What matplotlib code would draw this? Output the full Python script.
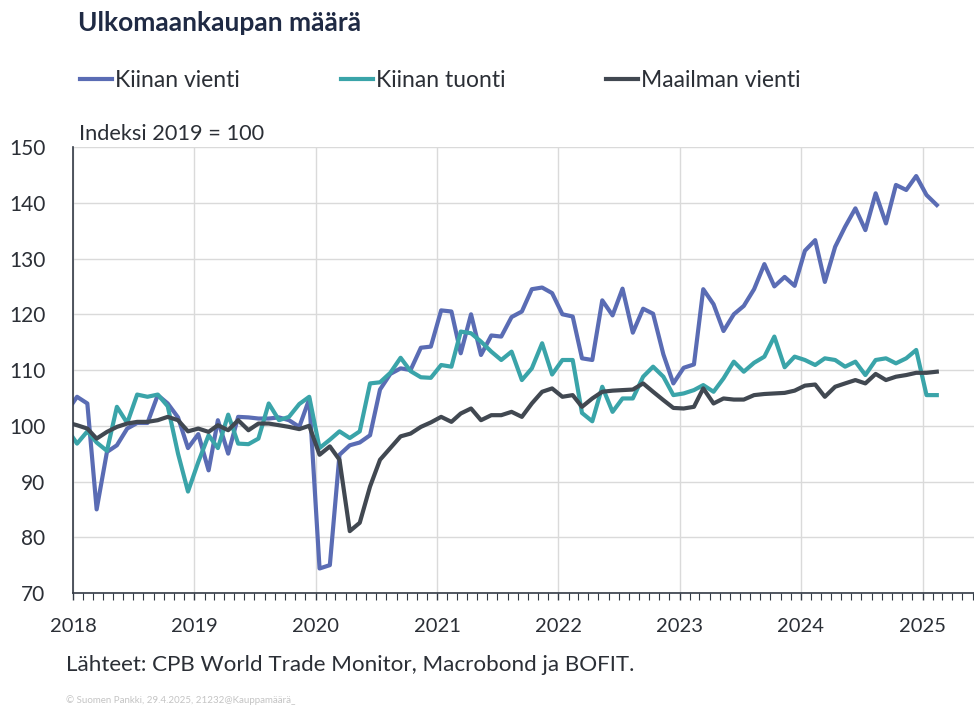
import matplotlib
matplotlib.use("Agg")
import matplotlib.pyplot as plt
import matplotlib.dates as mdates
import pandas as pd

plt.rcParams['font.family'] = ['Lato', 'DejaVu Sans']

# Monthly index values, Dec 2017 .. Feb 2025 (Index 2019 = 100)
months = pd.date_range('2017-12-01', periods=87, freq='MS') + pd.Timedelta(days=12)

kiinan_vienti = [
    102.5, 105.2, 104.0, 85.0, 95.3, 96.5, 99.5, 100.5, 100.5, 105.5, 104.0, 101.5, 96.0,
    98.5, 92.0, 101.0, 95.0, 101.6, 101.5, 101.3, 101.3, 101.5, 101.0, 99.8, 104.8,
    74.4, 75.0, 94.8, 96.5, 97.0, 98.3, 106.5, 109.3, 110.3, 110.0, 114.0, 114.2,
    120.7, 120.5, 113.0, 120.0, 112.7, 116.2, 116.0, 119.5, 120.5, 124.5, 124.8, 123.8,
    120.0, 119.6, 112.1, 111.8, 122.5, 119.8, 124.6, 116.7, 121.0, 120.1, 112.8, 107.6,
    110.4, 111.0, 124.5, 121.8, 117.0, 120.0, 121.5, 124.5, 129.0, 125.0, 126.7, 125.1,
    131.4, 133.3, 125.8, 132.1, 135.7, 139.0, 135.1, 141.7, 136.3, 143.2, 142.3, 144.8,
    141.4, 139.6,
]
kiinan_tuonti = [
    99.5, 96.8, 99.0, 97.0, 95.5, 103.4, 100.5, 105.6, 105.2, 105.6, 103.5, 95.0, 88.2,
    93.5, 98.3, 96.0, 102.0, 96.8, 96.7, 97.7, 104.0, 101.0, 101.6, 103.9, 105.2,
    96.0, 97.5, 99.0, 97.8, 99.0, 107.6, 107.8, 109.5, 112.2, 109.8, 108.7, 108.6,
    110.9, 110.6, 116.9, 116.6, 115.1, 113.3, 111.8, 113.3, 108.2, 110.3, 114.8, 109.2,
    111.8, 111.8, 102.3, 100.8, 107.0, 102.5, 104.9, 104.9, 108.8, 110.6, 108.8, 105.5,
    105.8, 106.4, 107.3, 106.1, 108.5, 111.5, 109.7, 111.3, 112.4, 116.0, 110.5, 112.4,
    111.8, 110.9, 112.1, 111.8, 110.6, 111.5, 109.1, 111.8, 112.1, 111.2, 112.1, 113.6,
    105.5, 105.5,
]
maailman_vienti = [
    100.6, 100.1, 99.5, 97.7, 98.9, 99.8, 100.4, 100.7, 100.7, 101.0, 101.6, 101.0, 99.0,
    99.5, 98.9, 100.1, 99.2, 101.0, 99.2, 100.4, 100.4, 100.1, 99.8, 99.4, 100.0,
    94.8, 96.3, 93.9, 81.1, 82.6, 89.1, 93.9, 96.0, 98.1, 98.6, 99.8, 100.6,
    101.6, 100.7, 102.2, 103.1, 101.0, 101.9, 101.9, 102.5, 101.6, 104.0, 106.1, 106.7,
    105.2, 105.5, 103.4, 104.9, 106.1, 106.3, 106.4, 106.5, 107.6, 106.1, 104.6, 103.2,
    103.1, 103.4, 106.7, 104.0, 104.9, 104.7, 104.7, 105.5, 105.7, 105.8, 105.9, 106.3,
    107.2, 107.4, 105.2, 107.0, 107.6, 108.2, 107.6, 109.3, 108.2, 108.8, 109.1, 109.5,
    109.5, 109.7,
]

series_names = ['Kiinan vienti', 'Kiinan tuonti', 'Maailman vienti']
series_colors = ['#5A6CB4', '#3AA4A9', '#414851']
y_ticks = [70, 80, 90, 100, 110, 120, 130, 140, 150]

fig = plt.figure(figsize=(9.74, 7.09), dpi=100)
ax = fig.add_axes([0.075, 0.1636, 0.925, 0.629])

for vals, name, col in zip([kiinan_vienti, kiinan_tuonti, maailman_vienti], series_names, series_colors):
    ax.plot(months, vals, color=col, lw=3.0, label=name, solid_joinstyle='round')

ax.set_ylim(70, 150)
ax.set_yticks(y_ticks)
ax.set_xlim(pd.Timestamp('2018-01-01'), pd.Timestamp('2025-06-05'))
ax.xaxis.set_major_locator(mdates.YearLocator())
ax.xaxis.set_major_formatter(mdates.DateFormatter('%Y'))
ax.xaxis.set_minor_locator(mdates.MonthLocator())

ax.grid(True, which='major', color='#DADADA', lw=1.0)
ax.set_axisbelow(True)
for s in ['top', 'right']:
    ax.spines[s].set_visible(False)
ax.spines['left'].set_color('#333A45')
ax.spines['bottom'].set_color('#333A45')
ax.spines['left'].set_linewidth(1.2)
ax.spines['bottom'].set_linewidth(1.2)

ax.tick_params(axis='y', length=0, pad=20, labelsize=15, labelcolor='#2B2F36')
ax.tick_params(axis='x', which='major', length=5, width=1, color='#333A45', pad=13,
               labelsize=14.5, labelcolor='#2B2F36')
ax.tick_params(axis='x', which='minor', length=5, width=0.8, color='#333A45')

fig.text(0.080, 0.968, 'Ulkomaankaupan määrä', fontsize=19, fontweight='bold',
         color='#1F2A44', va='center', ha='left')
fig.text(0.081, 0.811, 'Indeksi 2019 = 100', fontsize=15.7, color='#2B2F36',
         va='center', ha='left')
fig.legend(loc='center left', bbox_to_anchor=(0.0821, 0.887), ncol=3, frameon=False,
           borderpad=0, borderaxespad=0, fontsize=16.5, handlelength=1.4,
           handletextpad=0.13, columnspacing=4.4, labelcolor='#2B2F36')
fig.text(0.068, 0.062, 'Lähteet: CPB World Trade Monitor, Macrobond ja BOFIT.',
         fontsize=16.1, color='#2B2F36', va='center', ha='left')
fig.text(0.068, 0.012, '© Suomen Pankki, 29.4.2025, 21232@Kauppamäärä_',
         fontsize=7, color='#C4C4C4', va='center', ha='left')

fig.savefig('out.png', dpi=100)
